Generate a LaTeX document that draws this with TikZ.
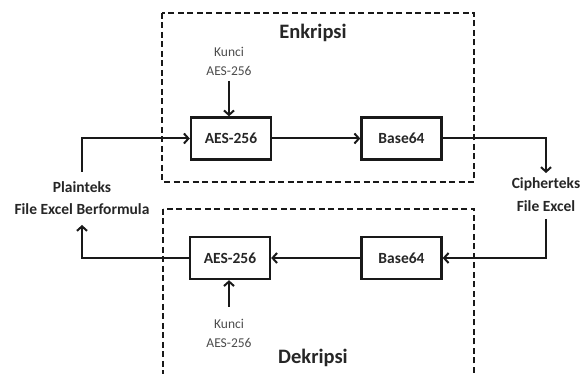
\documentclass[tikz,border=0pt]{standalone}
\usepackage{fontspec}
\setmainfont{Carlito}
\usetikzlibrary{arrows.meta}
\begin{document}
\begin{tikzpicture}[x=1pt,y=-1pt,
  blk/.style={draw=black!90,line width=2.4pt,minimum width=80pt,minimum height=42pt,inner sep=0pt,font=\fontsize{15.5}{18}\selectfont\bfseries,text=black!85},
  lbl/.style={inner sep=0pt,font=\fontsize{15.5}{18}\selectfont\bfseries,text=black!85},
  ttl/.style={inner sep=0pt,font=\fontsize{20.5}{24}\selectfont\bfseries,text=black!85},
  key/.style={inner sep=0pt,font=\fontsize{13.5}{16}\selectfont,text=black!70},
  arr/.style={line width=2pt,draw=black!90,-{Straight Barb[length=4.5pt,width=10pt,line width=2pt]}},
  grp/.style={line width=2pt,draw=black!90,dash pattern=on 6pt off 3.5pt}]
\useasboundingbox (0,0) rectangle (582,374);
% groups
\draw[grp] (162,13) rectangle (474,182);
\draw[grp] (163,209) rectangle (474,392);
\node[ttl] (enk) at (313,33) {Enkripsi};
\node[ttl] (dek) at (313,358) {Dekripsi};
% boxes
\node[blk] (aesE) at (231,138.5) {AES-256};
\node[blk] (b64E) at (401.5,138.5) {Base64};
\node[blk] (aesD) at (230,258) {AES-256};
\node[blk] (b64D) at (401.5,258) {Base64};
% keys
\node[key] (kE1) at (229,52) {Kunci};
\node[key] (kE2) at (229,71) {AES-256};
\node[key] (kD1) at (229,324) {Kunci};
\node[key] (kD2) at (229,343) {AES-256};
\coordinate (kEs) at (229,81);
\coordinate (kDn) at (229,307);
% side labels
\node[lbl] (p1) at (82,187) {Plainteks};
\node[lbl] (p2) at (82,209) {File Excel Berformula};
\node[lbl] (c1) at (546,184) {Cipherteks};
\node[lbl] (c2) at (546,206) {File Excel};
\coordinate (pTop) at (82,172);
\coordinate (pBot) at (82,225);
\coordinate (cTop) at (546,173);
\coordinate (cBot) at (546,219);
% connectors
\draw[arr] (pTop) |- (aesE.west);
\draw[arr] (aesE) -- (b64E);
\draw[arr] (b64E.east) -| (cTop);
\draw[arr] (cBot) |- (b64D.east);
\draw[arr] (b64D) -- (aesD);
\draw[arr] (aesD.west) -| (pBot);
\draw[arr] (kEs) -- (aesE.north -| kEs);
\draw[arr] (kDn) -- (aesD.south -| kDn);
\end{tikzpicture}
\end{document}
